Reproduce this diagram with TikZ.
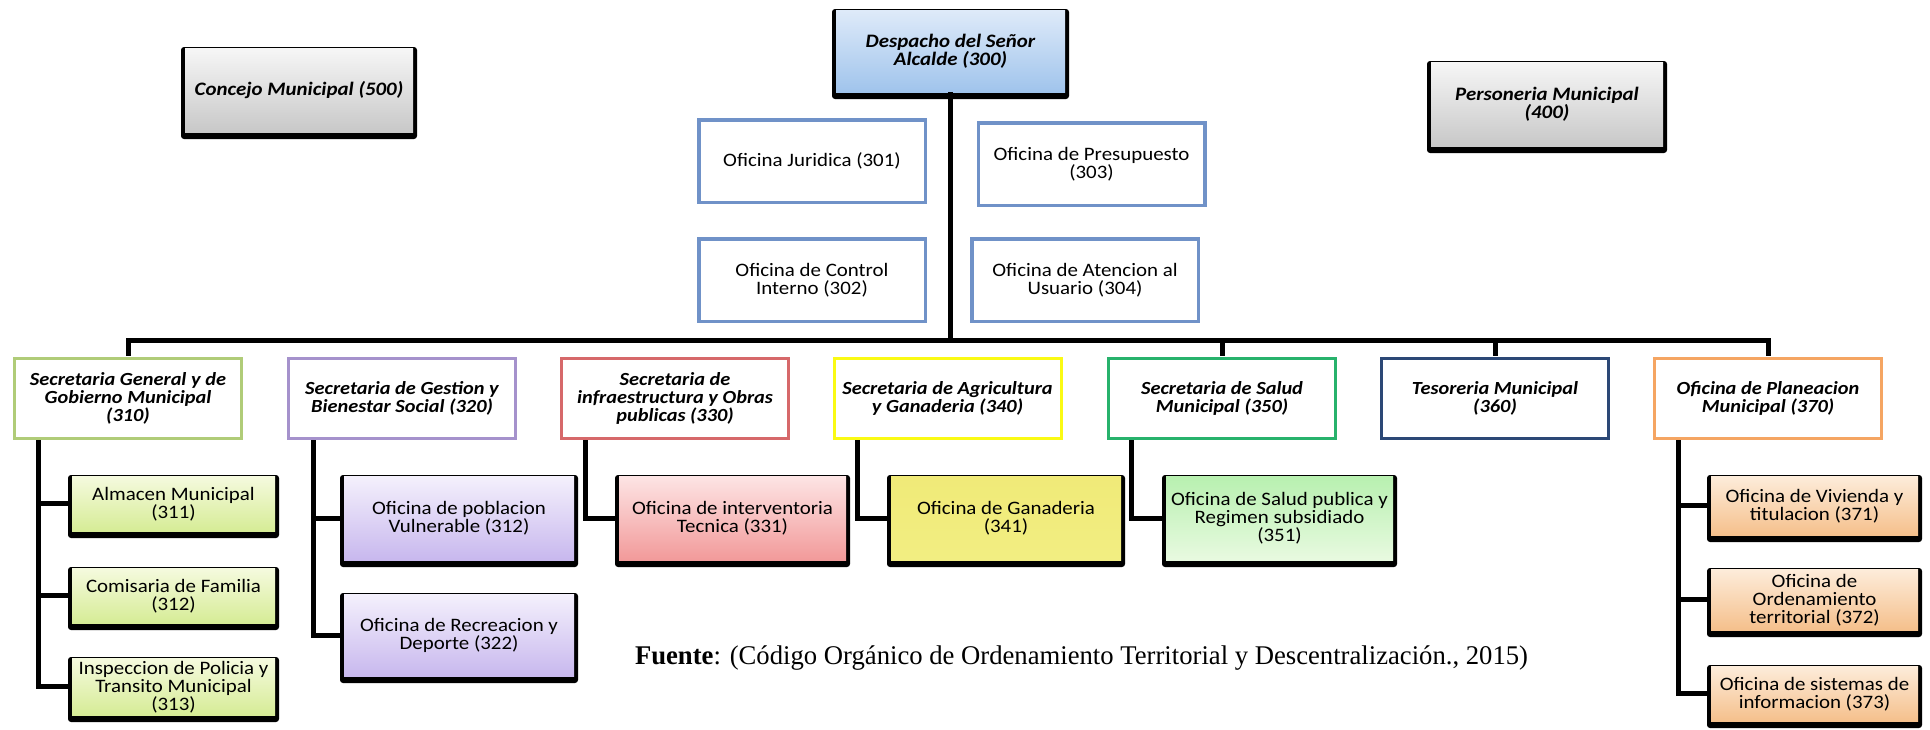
\documentclass[tikz,border=0pt]{standalone}
\usepackage{fontspec}
\setmainfont{Carlito}[FakeStretch=1.1]
\newfontfamily\fuentefont{Liberation Serif}
\usepackage{graphicx}
\definecolor{offblue}{RGB}{112,146,200}
\definecolor{g310}{RGB}{176,204,120}
\definecolor{p320}{RGB}{165,146,204}
\definecolor{r330}{RGB}{214,104,106}
\definecolor{y340}{RGB}{250,250,20}
\definecolor{g350}{RGB}{40,178,108}
\definecolor{n360}{RGB}{44,72,118}
\definecolor{o370}{RGB}{245,165,98}
\definecolor{grayT}{RGB}{246,246,246}
\definecolor{grayB}{RGB}{200,200,200}
\definecolor{blueT}{RGB}{222,234,249}
\definecolor{blueB}{RGB}{160,196,236}
\definecolor{lgT}{RGB}{245,250,222}
\definecolor{lgB}{RGB}{214,236,150}
\definecolor{lvT}{RGB}{244,240,252}
\definecolor{lvB}{RGB}{200,184,238}
\definecolor{pkT}{RGB}{253,228,228}
\definecolor{pkB}{RGB}{242,154,154}
\definecolor{ywT}{RGB}{240,234,120}
\definecolor{ywM}{RGB}{250,248,195}
\definecolor{ywB}{RGB}{242,238,130}
\definecolor{mgT}{RGB}{184,240,176}
\definecolor{mgB}{RGB}{232,250,224}
\definecolor{orT}{RGB}{253,236,218}
\definecolor{orB}{RGB}{245,192,140}
\tikzset{
  conn/.style={line width=5pt, black, line join=miter},
  hdr/.style={draw=#1, line width=3pt, fill=white, minimum width=227pt, minimum height=80pt,
    inner sep=0pt, align=center, font=\fontsize{18.5}{18}\selectfont\bfseries\itshape},
  office/.style={draw=offblue, line width=3.5pt, fill=white, minimum width=226.5pt, minimum height=82.5pt,
    inner sep=0pt, align=center, font=\fontsize{19}{18.5}\selectfont},
  core/.style={inner sep=0pt, align=center, font=\fontsize{19}{18}\selectfont},
  topfont/.style={font=\fontsize{19}{18}\selectfont\bfseries\itshape},
}
% name, x1, y1, x2, y2, options, text
\newcommand\shbox[7]{%
  \fill[black, rounded corners=3pt] (#2,#3) rectangle (#4,#5);
  \node[core, minimum width={#4-#2-8}, minimum height={#5-#3-8.5}, #6] (#1)
    at ({(#2+#4)/2},{(#3+#5)/2-2.75}) {#7};
}
\begin{document}
\begin{tikzpicture}[x=1pt,y=-1pt]
\useasboundingbox[fill=white] (0,0) rectangle (1930,729);

% top level
\shbox{concejo}{181}{47}{417}{139}{top color=grayT, bottom color=grayB, topfont}{Concejo Municipal (500)}
\shbox{desp}{832}{9}{1069}{99}{top color=blueT, bottom color=blueB, topfont}{Despacho del Señor\\Alcalde (300)}
\shbox{pers}{1427}{61}{1667}{153}{top color=grayT, bottom color=grayB, topfont}{Personeria Municipal\\(400)}

% staff offices
\node[office] (o301) at (812,161) {Oficina Juridica (301)};
\node[office] (o303) at (1091.5,164) {Oficina de Presupuesto\\(303)};
\node[office] (o302) at (812,280) {Oficina de Control\\Interno (302)};
\node[office] (o304) at (1085,280) {Oficina de Atencion al\\Usuario (304)};

% secretarias
\node[hdr=g310] (h310) at (128,398.5) {Secretaria General y de\\Gobierno Municipal\\(310)};
\node[hdr=p320] (h320) at (402,398.5) {Secretaria de Gestion y\\Bienestar Social (320)};
\node[hdr=r330] (h330) at (675,398.5) {Secretaria de\\infraestructura y Obras\\publicas (330)};
\node[hdr=y340] (h340) at (947.5,398.5) {Secretaria de Agricultura\\y Ganaderia (340)};
\node[hdr=g350] (h350) at (1222,398.5) {Secretaria de Salud\\Municipal (350)};
\node[hdr=n360] (h360) at (1495,398.5) {Tesoreria Municipal\\(360)};
\node[hdr=o370] (h370) at (1768,398.5) {Oficina de Planeacion\\Municipal (370)};

% children
\shbox{c311}{68}{475}{279}{538}{top color=lgT, bottom color=lgB}{Almacen Municipal\\(311)}
\shbox{c312}{68}{567}{279}{630}{top color=lgT, bottom color=lgB}{Comisaria de Familia\\(312)}
\shbox{c313}{68}{657}{279}{722}{top color=lgT, bottom color=lgB}{Inspeccion de Policia y\\Transito Municipal\\(313)}
\shbox{c321}{340}{475}{578}{567}{top color=lvT, bottom color=lvB}{Oficina de poblacion\\Vulnerable (312)}
\shbox{c322}{340}{593}{578}{683}{top color=lvT, bottom color=lvB}{Oficina de Recreacion y\\Deporte (322)}
\shbox{c331}{615}{475}{850}{567}{top color=pkT, bottom color=pkB}{Oficina de interventoria\\Tecnica (331)}
\shbox{c341}{887}{475}{1125}{567}{top color=ywT, middle color=ywM, bottom color=ywB}{Oficina de Ganaderia\\(341)}
\shbox{c351}{1162}{475}{1397}{567}{top color=mgT, bottom color=mgB}{Oficina de Salud publica y\\Regimen subsidiado\\(351)}
\shbox{c371}{1707}{475}{1922}{542}{top color=orT, bottom color=orB}{Oficina de Vivienda y\\titulacion (371)}
\shbox{c372}{1707}{568}{1922}{637}{top color=orT, bottom color=orB}{Oficina de\\Ordenamiento\\territorial (372)}
\shbox{c373}{1707}{665}{1922}{728}{top color=orT, bottom color=orB}{Oficina de sistemas de\\informacion (373)}

% connectors
\coordinate (bus) at (950,340);
\draw[conn] (desp.south) -- (desp.south |- bus);
\draw[conn] ([yshift=1.5pt]h310.north) -- (h310.north |- bus) -- (h370.north |- bus) -- ([yshift=1.5pt]h370.north);
\draw[conn] (h350.north |- bus) -- ([yshift=1.5pt]h350.north);
\draw[conn] (h360.north |- bus) -- ([yshift=1.5pt]h360.north);

\draw[conn] ([xshift=25pt]h310.south west) |- (c311.west);
\draw[conn] ([xshift=25pt]h310.south west) |- (c312.west);
\draw[conn] ([xshift=25pt]h310.south west) |- (c313.west);
\draw[conn] ([xshift=26pt]h320.south west) |- (c321.west);
\draw[conn] ([xshift=26pt]h320.south west) |- (c322.west);
\draw[conn] ([xshift=25pt]h330.south west) |- (c331.west);
\draw[conn] ([xshift=25pt]h340.south west) |- (c341.west);
\draw[conn] ([xshift=24pt]h350.south west) |- (c351.west);
\draw[conn] ([xshift=25pt]h370.south west) |- (c371.west);
\draw[conn] ([xshift=25pt]h370.south west) |- (c372.west);
\draw[conn] ([xshift=25pt]h370.south west) |- (c373.west);

% source
\node[anchor=base, inner sep=0pt] (fuente) at (1081.5,664)
  {\resizebox{893pt}{\height}{\fuentefont\fontsize{27}{30}\selectfont\textbf{Fuente}: (Código Orgánico de Ordenamiento Territorial y Descentralización., 2015)}};
\end{tikzpicture}
\end{document}
